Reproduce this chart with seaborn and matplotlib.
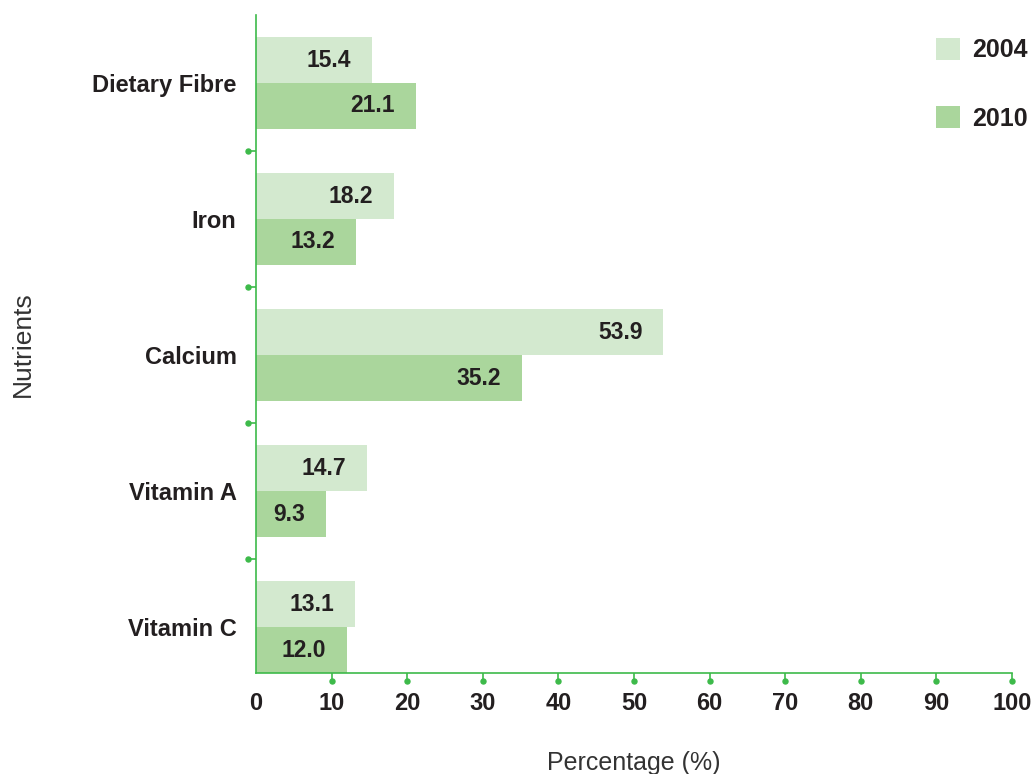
import matplotlib
matplotlib.use("Agg")
import matplotlib.pyplot as plt
from matplotlib.transforms import blended_transform_factory, ScaledTranslation
from matplotlib.patches import Patch
import seaborn as sns
import pandas as pd

# Nutrient intake shares by year
nutrients = ["Dietary Fibre", "Iron", "Calcium", "Vitamin A", "Vitamin C"]
years = ["2004", "2010"]
values_2004 = [15.4, 18.2, 53.9, 14.7, 13.1]
values_2010 = [21.1, 13.2, 35.2, 9.3, 12.0]
x_ticks = [0, 10, 20, 30, 40, 50, 60, 70, 80, 90, 100]

colors = {"2004": "#d3e9cf", "2010": "#aad69c"}
green = "#3dba4a"
ink = "#231f20"

df = pd.DataFrame({
    "Nutrient": nutrients * 2,
    "Year": ["2004"] * len(nutrients) + ["2010"] * len(nutrients),
    "Value": values_2004 + values_2010,
})

sns.set_style("white")
plt.rcParams["font.family"] = ["Liberation Sans", "DejaVu Sans"]

fig = plt.figure(figsize=(10.34, 7.74), dpi=100)
ax = fig.add_axes([256 / 1034, 1 - 673 / 774, (1012 - 256) / 1034, (673 - 15) / 774])

sns.barplot(data=df, y="Nutrient", x="Value", hue="Year", order=nutrients,
            hue_order=years, palette=colors, orient="h", width=0.676,
            saturation=1, edgecolor="none", linewidth=0, legend=False, ax=ax)

# value labels inside the bar ends
for cont in ax.containers:
    for rect in cont:
        w = rect.get_width()
        ax.annotate(f"{w:.1f}", (w, rect.get_y() + rect.get_height() / 2),
                    xytext=(-21, 0), textcoords="offset pixels",
                    ha="right", va="center", fontsize=16.5, fontweight="bold",
                    color=ink)

ax.set_xlim(0, 100)
ax.set_ylim(4.338, -0.5)

for side in ["top", "right"]:
    ax.spines[side].set_visible(False)
for side in ["left", "bottom"]:
    ax.spines[side].set_color(green)
    ax.spines[side].set_linewidth(1.2)

# x axis ticks with dot ends
ax.set_xticks(x_ticks)
ax.set_xticklabels([str(t) for t in x_ticks], fontsize=17, fontweight="bold", color=ink)
ax.tick_params(axis="x", which="major", length=6, width=1.2, color=green, pad=8,
               direction="out", bottom=True)
ax.xaxis.get_major_ticks()[0].tick1line.set_visible(False)
off = ScaledTranslation(0, -0.08, fig.dpi_scale_trans)
tx = blended_transform_factory(ax.transData, ax.transAxes) + off
ax.plot(x_ticks[1:], [0] * (len(x_ticks) - 1), "o", ms=3.6, color=green,
        transform=tx, clip_on=False)

# y axis: category labels, separators with dot ends
ax.set_yticks(range(len(nutrients)))
ax.set_yticklabels(nutrients, fontsize=17, fontweight="bold", color=ink)
ax.tick_params(axis="y", which="major", length=0, pad=14)
seps = [i + 0.5 for i in range(len(nutrients) - 1)]
ax.set_yticks(seps, minor=True)
ax.tick_params(axis="y", which="minor", length=6, width=1.2, color=green,
               direction="out", left=True)
offy = ScaledTranslation(-0.085, 0, fig.dpi_scale_trans)
ty = blended_transform_factory(ax.transAxes, ax.transData) + offy
ax.plot([0] * len(seps), seps, "o", ms=3.6, color=green, transform=ty, clip_on=False)

ax.set_ylabel("Nutrients", fontsize=19, color="#333333", labelpad=0)
ax.yaxis.set_label_coords(-221 / 756, 0.5)
ax.set_xlabel("Percentage (%)", fontsize=18, color="#333333")
ax.xaxis.set_label_coords(0.5, -78 / 658)

handles = [Patch(facecolor=colors[y], edgecolor="none", label=y) for y in years]
leg = fig.legend(handles=handles, loc="upper left",
                 bbox_to_anchor=(936 / 1034, 1 - 38 / 774),
                 bbox_transform=fig.transFigure, frameon=False,
                 prop={"size": 18, "weight": "bold"},
                 handlelength=0.96, handleheight=0.96, labelspacing=1.75,
                 handletextpad=0.5, borderaxespad=0, borderpad=0)
for t in leg.get_texts():
    t.set_color(ink)

fig.savefig("out.png", dpi=100)
